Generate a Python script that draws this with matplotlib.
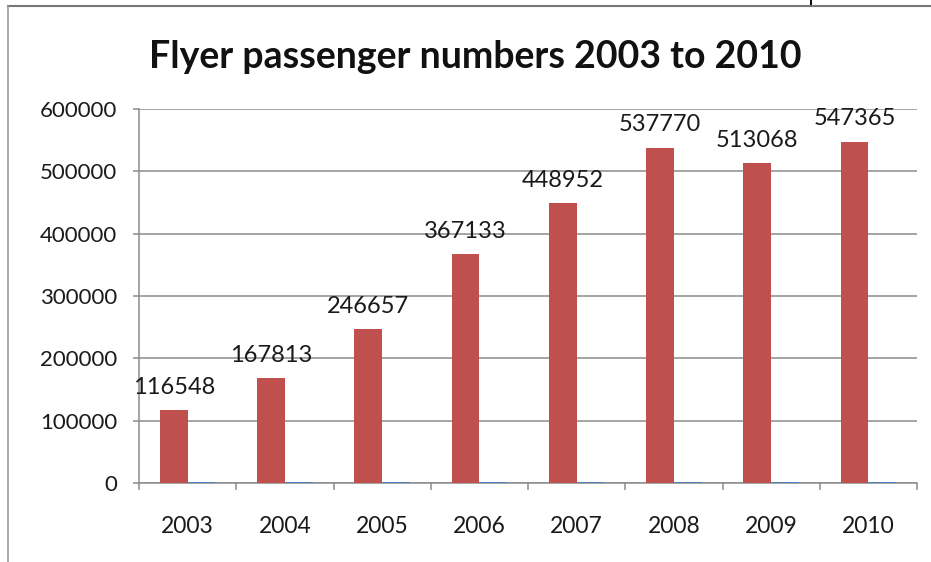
import numpy as np
import matplotlib; matplotlib.use('Agg')
import matplotlib.pyplot as plt
from matplotlib.lines import Line2D

plt.rcParams.update({'font.family': ['Lato', 'DejaVu Sans']})

years = ['2003', '2004', '2005', '2006', '2007', '2008', '2009', '2010']
passengers = [116548, 167813, 246657, 367133, 448952, 537770, 513068, 547365]
year_values = [2003, 2004, 2005, 2006, 2007, 2008, 2009, 2010]
yticks = [0, 100000, 200000, 300000, 400000, 500000, 600000]

C_RED = '#C0504D'; C_BLUE = '#4F81BD'; C_GRID = '#8c8c8c'

fig = plt.figure(figsize=(9.31, 5.62), dpi=100)
ax = fig.add_axes([139/931, 1-483/562, (917-139)/931, (483-109)/562])

x = np.arange(len(years))
w = 0.285
ax.bar(x - w/2, passengers, width=w, color=C_RED, zorder=3)
ax.bar(x + w/2, year_values, width=w, color=C_BLUE, zorder=3)
for xi, v in zip(x - w/2, passengers):
    ax.annotate(str(v), xy=(xi, v), xytext=(0, 9), textcoords='offset points',
                ha='center', va='bottom', fontsize=17, color='#1a1a1a')

ax.set_xlim(-0.5, len(years) - 0.5)
ax.set_ylim(0, 600000)
ax.set_yticks(yticks)
ax.set_yticklabels([str(t) for t in yticks])
ax.yaxis.grid(True, color=C_GRID, linewidth=1.1, zorder=0)
ax.set_axisbelow(True)

ax.set_xticks(np.arange(len(years) + 1) - 0.5)
ax.set_xticklabels([])
ax.set_xticks(x, minor=True)
ax.set_xticklabels(years, minor=True)
ax.tick_params(axis='x', which='major', length=5, color=C_GRID, width=1.1)
ax.tick_params(axis='x', which='minor', length=0, pad=24, labelsize=16.5, labelcolor='#1a1a1a')
ax.tick_params(axis='y', length=4.5, color=C_GRID, width=1.1, pad=11, labelsize=16, labelcolor='#1a1a1a')

for s in ['top', 'right']:
    ax.spines[s].set_visible(False)
for s in ['left', 'bottom']:
    ax.spines[s].set_color(C_GRID)
    ax.spines[s].set_linewidth(1.1)

fig.text(475/931, 1-57/562, 'Flyer passenger numbers 2003 to 2010', ha='center', va='center',
         fontsize=27, fontweight='bold', color='#111111')

# outer frame of the screenshot
fig.add_artist(Line2D([8/931, 1], [1-5.5/562, 1-5.5/562], transform=fig.transFigure, color='#777777', linewidth=1.5))
fig.add_artist(Line2D([8/931, 8/931], [0, 1-5.5/562], transform=fig.transFigure, color='#999999', linewidth=1.2))
fig.add_artist(Line2D([811/931, 811/931], [1-4/562, 1], transform=fig.transFigure, color='#111111', linewidth=1.5))

fig.savefig('out.png', dpi=100)
